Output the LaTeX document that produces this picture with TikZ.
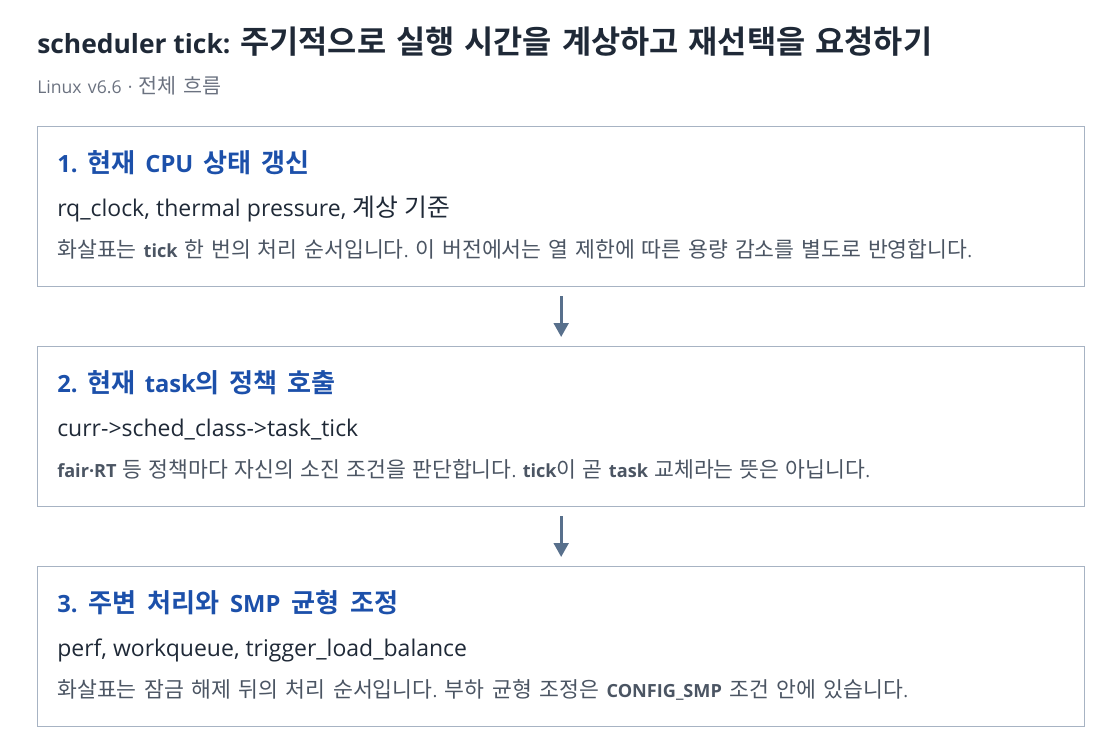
\documentclass[tikz,border=0pt]{standalone}
\usepackage{fontspec}
\usetikzlibrary{arrows.meta}
\setmainfont{Open Sans}
\newfontfamily\krfont{Noto Sans CJK KR}[BoldFont={Noto Sans CJK KR Bold}]
\newcommand{\krsize}{}
% Hangul syllables switch to the Korean font
\XeTeXinterchartokenstate=1
\newXeTeXintercharclass\krclass
\count255="AC00
\loop\ifnum\count255<"D7A4
  \XeTeXcharclass\count255=\krclass
  \advance\count255 by 1
\repeat
\XeTeXinterchartoks 0 \krclass = {\begingroup\krfont\krsize}
\XeTeXinterchartoks 4095 \krclass = {\begingroup\krfont\krsize}
\XeTeXinterchartoks \krclass 0 = {\endgroup}
\XeTeXinterchartoks \krclass 4095 = {\endgroup}
% a line spread to the width it has in the reference
\newcommand{\fitline}[2]{\makebox[#1][s]{#2}}
\definecolor{titleink}{RGB}{31,41,55}
\definecolor{subink}{RGB}{107,114,128}
\definecolor{boxline}{RGB}{167,179,195}
\definecolor{headblue}{RGB}{28,80,170}
\definecolor{codeink}{RGB}{31,41,55}
\definecolor{descink}{RGB}{75,85,99}
\definecolor{arrowink}{RGB}{88,112,140}

\begin{document}
\frenchspacing
\begin{tikzpicture}[x=0.75pt,y=-0.75pt,
    stepbox/.style={draw=boxline,line width=1pt,anchor=north west,inner sep=0pt,
      minimum width=785.25pt,minimum height=120pt},
    headtext/.style={anchor=base west,inner sep=0pt,text=headblue,
      font=\fontsize{17.8pt}{21pt}\selectfont\bfseries
        \renewcommand{\krsize}{\fontsize{19.6pt}{21pt}\selectfont}},
    codetext/.style={anchor=base west,inner sep=0pt,text=codeink,
      font=\fontsize{17.25pt}{20pt}\selectfont
        \renewcommand{\krsize}{\fontsize{18.6pt}{20pt}\selectfont}},
    desctext/.style={anchor=base west,inner sep=0pt,text=descink,
      font=\fontsize{13.6pt}{16pt}\selectfont
        \renewcommand{\krsize}{\fontsize{16.2pt}{16pt}\selectfont}},
    flowarrow/.style={draw=arrowink,line width=2.25pt,shorten <=9pt*0.75,shorten >=9pt*0.75,
      -{Triangle[width=11pt,length=10.5pt]}}]
  \useasboundingbox (0,0) rectangle (1120,754);
  \node (title) [anchor=base west,inner sep=0pt,text=titleink,
    font=\fontsize{19.8pt}{24pt}\selectfont\bfseries
      \renewcommand{\krsize}{\fontsize{23.8pt}{24pt}\selectfont}] at (37,53)
    {\fitline{671.25pt}{\mbox{scheduler tick:} 주기적으로 실행 시간을 계상하고 재선택을 요청하기}};
  \node (subtitle) [anchor=base west,inner sep=0pt,text=subink,
    font=\fontsize{13.2pt}{16pt}\selectfont
      \renewcommand{\krsize}{\fontsize{15.5pt}{16pt}\selectfont}] at (37,93)
    {\fitline{138pt}{Linux v6.6 · 전체 흐름}};

  \node (box1) [stepbox] at (37,126) {};
  \node (head1) [headtext] at (57,172) {\fitline{189pt}{1. 현재 CPU 상태 갱신}};
  \node (code1) [codetext] at (57,216) {\fitline{294.75pt}{rq\_clock, thermal pressure, 계상 기준}};
  \node (desc1) [desctext] at (57,257)
    {\fitline{686.25pt}{화살표는 \textbf{tick} 한 번의 처리 순서입니다. 이 버전에서는 열 제한에 따른 용량 감소를 별도로 반영합니다.}};

  \node (box2) [stepbox] at (37,346) {};
  \node (head2) [headtext] at (57,392) {\fitline{208.5pt}{2. 현재 task의 정책 호출}};
  \node (code2) [codetext] at (57,436) {curr->sched\_class->task\_tick};
  \node (desc2) [desctext] at (57,477)
    {\fitline{609.75pt}{\textbf{fair·RT} 등 정책마다 자신의 소진 조건을 판단합니다. \textbf{tick}이 곧 \textbf{task} 교체라는 뜻은 아닙니다.}};

  \node (box3) [stepbox] at (37,566) {};
  \node (head3) [headtext] at (57,612) {\fitline{255.75pt}{3. 주변 처리와 SMP 균형 조정}};
  \node (code3) [codetext] at (57,656) {perf, workqueue, trigger\_load\_balance};
  \node (desc3) [desctext] at (57,697)
    {\fitline{638.25pt}{화살표는 잠금 해제 뒤의 처리 순서입니다. 부하 균형 조정은 \textbf{CONFIG\_SMP} 조건 안에 있습니다.}};

  \draw[flowarrow] (box1) -- (box2);
  \draw[flowarrow] (box2) -- (box3);
\end{tikzpicture}
\end{document}
